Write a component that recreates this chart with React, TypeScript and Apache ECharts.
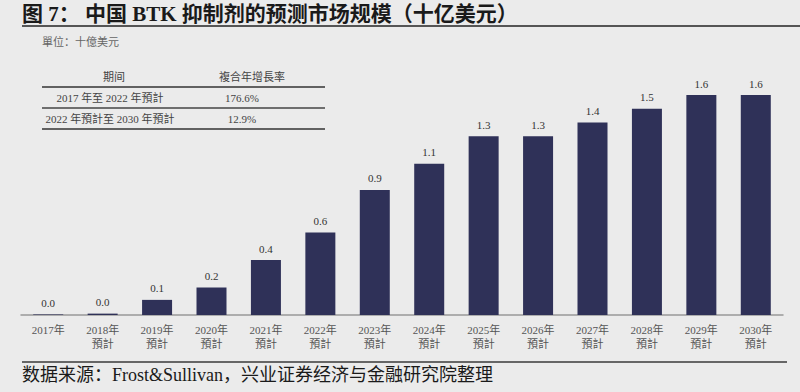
import React, { useEffect, useRef } from "react";
import * as echarts from "echarts";

const years = ["2017年", "2018年\n預計", "2019年\n預計", "2020年\n預計", "2021年\n預計", "2022年\n預計", "2023年\n預計", "2024年\n預計", "2025年\n預計", "2026年\n預計", "2027年\n預計", "2028年\n預計", "2029年\n預計", "2030年\n預計"];
const values = [0.004, 0.01, 0.11, 0.2, 0.4, 0.6, 0.91, 1.1, 1.3, 1.3, 1.4, 1.5, 1.6, 1.6];
const tableHeader = ["期间", "複合年增長率"];
const tableRows = [
  ["2017 年至 2022 年預計", "176.6%"],
  ["2022 年預計至 2030 年預計", "12.9%"],
];

const SERIF = "'Liberation Serif', 'Noto Sans CJK SC', serif";

export default function App() {
  const ref = useRef<HTMLDivElement>(null);
  useEffect(() => {
    const chart = echarts.init(ref.current!, null, { renderer: "svg" });
    const rowY = [98, 119];
    const graphic: any[] = [
      { type: "text", left: 22, top: 3, style: { text: "图 7： 中国 BTK 抑制剂的预测市场规模（十亿美元）", font: `bold 21px ${SERIF}`, fill: "#1a1a1a" } },
      { type: "line", shape: { x1: 22, y1: 26, x2: 800, y2: 26 }, style: { stroke: "#555", lineWidth: 2 } },
      { type: "text", x: 42, y: 42, style: { text: "單位：十億美元", font: `11px ${SERIF}`, fill: "#666", verticalAlign: "middle" } },
      { type: "text", x: 114, y: 77, style: { text: tableHeader[0], font: `11px ${SERIF}`, fill: "#444", align: "center", verticalAlign: "middle" } },
      { type: "text", x: 252, y: 77, style: { text: tableHeader[1], font: `11px ${SERIF}`, fill: "#444", align: "center", verticalAlign: "middle" } },
      { type: "line", shape: { x1: 42, y1: 87, x2: 325, y2: 87 }, style: { stroke: "#333", lineWidth: 1.6 } },
      { type: "line", shape: { x1: 42, y1: 108, x2: 325, y2: 108 }, style: { stroke: "#444", lineWidth: 1.3 } },
      { type: "line", shape: { x1: 42, y1: 129, x2: 325, y2: 129 }, style: { stroke: "#333", lineWidth: 1.6 } },
      { type: "line", shape: { x1: 22, y1: 362, x2: 787, y2: 362 }, style: { stroke: "#666", lineWidth: 2 } },
      { type: "text", left: 22, top: 366, style: { text: "数据来源：Frost&Sullivan，兴业证券经济与金融研究院整理", font: `18px ${SERIF}`, fill: "#1a1a1a" } },
    ];
    tableRows.forEach((r, i) => {
      graphic.push({ type: "text", x: 110, y: rowY[i], style: { text: r[0], font: `11px ${SERIF}`, fill: "#444", align: "center", verticalAlign: "middle" } });
      graphic.push({ type: "text", x: 242, y: rowY[i], style: { text: r[1], font: `11px ${SERIF}`, fill: "#444", align: "center", verticalAlign: "middle" } });
    });
    chart.setOption({
      animation: false,
      backgroundColor: "#ebebeb",
      grid: { left: 21, right: 17, top: 40, bottom: 77 },
      xAxis: {
        type: "category",
        data: years,
        axisLine: { lineStyle: { color: "#999", width: 1.5 } },
        axisTick: { show: false },
        axisLabel: { color: "#555", fontFamily: SERIF, fontSize: 11, lineHeight: 14, margin: 8, interval: 0 },
      },
      yAxis: { type: "value", min: 0, max: 2, show: false, splitLine: { show: false } },
      series: [
        {
          type: "bar",
          data: values,
          barWidth: 30,
          itemStyle: { color: "#2f3158" },
          label: { show: true, position: "top", distance: 6, color: "#333", fontFamily: SERIF, fontSize: 11, formatter: (p: any) => p.value.toFixed(1) },
        },
      ],
      graphic,
    });
    return () => chart.dispose();
  }, []);
  return <div ref={ref} style={{ width: 800, height: 392, position: "absolute", left: 0, top: 0 }} />;
}
